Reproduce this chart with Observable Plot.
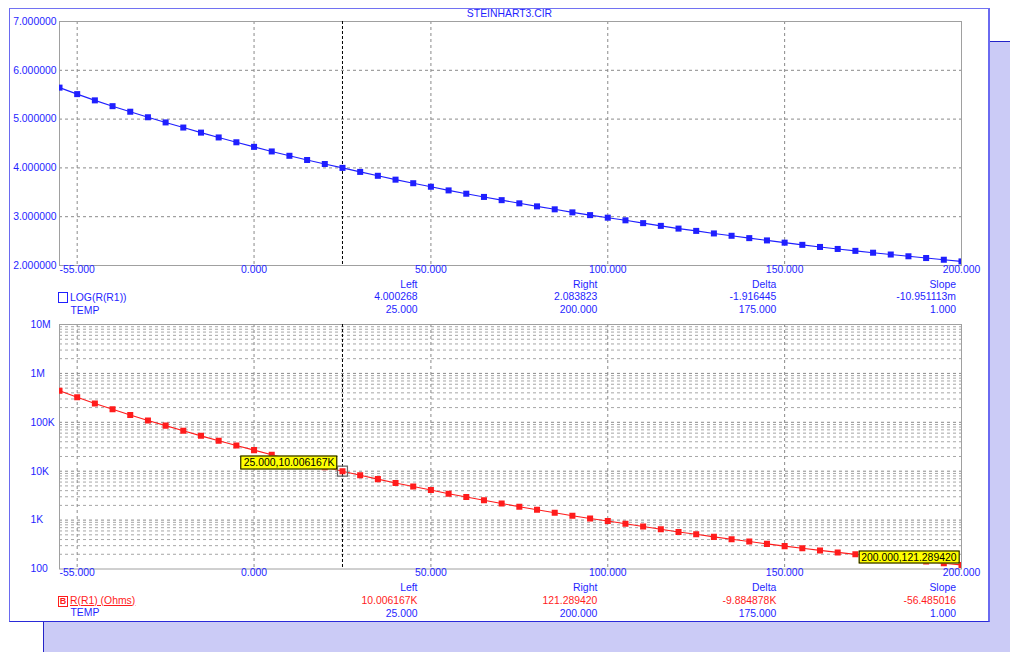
<!DOCTYPE html>
<html>
<head>
<meta charset="utf-8">
<title>STEINHART3.CIR</title>
<script src="https://cdn.jsdelivr.net/npm/d3@7"></script>
<script src="https://cdn.jsdelivr.net/npm/@observablehq/plot@0.6"></script>
<style>
  html, body { margin: 0; background: #fff; }
  #stage { position: relative; width: 1010px; height: 652px; overflow: hidden; background: #fff;
    font-family: "Liberation Sans", Arial, sans-serif; font-size: 10.4px; color: #1f1fff; }
  #backwin { position: absolute; left: 43px; top: 41px; width: 1000px; height: 700px;
    background: #cbcbf6; border-left: 1px solid #2424c8; border-top: 1px solid #2424c8; }
  #frontwin { position: absolute; left: 9px; top: 8px; width: 978px; height: 612px; background: #fff;
    border-left: 1px solid #6a6af0; border-top: 1px solid #7272f2; border-right: 2px solid #6a6af0;
    border-bottom: 1px solid #2a2ad8; }
  .t { position: absolute; white-space: nowrap; line-height: 12px; height: 12px; }
  .tag { position: absolute; white-space: nowrap; background: #ffff00; border: 1px solid #000; color: #000;
    line-height: 11.5px; padding: 0 2px; transform: translate(-100%, -100%); }
  .box { position: absolute; box-sizing: border-box; }
</style>
</head>
<body>
<div id="stage">
  <div id="backwin"></div>
  <div id="frontwin"></div>
</div>
<script>
// Thermistor sweep: R(R1) in ohms against TEMP in degrees C
const temperature = [-55, -50, -45, -40, -35, -30, -25, -20, -15, -10, -5, 0, 5, 10, 15, 20, 25,
  30, 35, 40, 45, 50, 55, 60, 65, 70, 75, 80, 85, 90, 95, 100, 105, 110, 115, 120, 125, 130,
  135, 140, 145, 150, 155, 160, 165, 170, 175, 180, 185, 190, 195, 200];
const resistance = [441600, 325100, 242100, 184100, 141600, 109100, 85510, 67140, 52840, 42070,
  33500, 26980, 21730, 17700, 14520, 12020, 10006.167, 8279, 6887, 5741, 4853, 4111, 3459, 2958,
  2541, 2183, 1879, 1629, 1416, 1227, 1077, 955.0, 843.3, 737.9, 648.6, 570.2, 511.7, 453.9,
  406.4, 363.9, 326.6, 293.8, 264.9, 239.9, 218.3, 199.5, 182.8, 167.9, 154.5, 142.2, 131.2,
  121.28942];

// Axis ticks and labels
const xTicks = [-55, 0, 50, 100, 150, 200];
const xTickLabels = ["-55.000", "0.000", "50.000", "100.000", "150.000", "200.000"];
const xGrid = [-50, 0, 50, 100, 150];
const logTicks = [2, 3, 4, 5, 6, 7];
const logTickLabels = ["2.000000", "3.000000", "4.000000", "5.000000", "6.000000", "7.000000"];
const ohmTicks = [100, 1e3, 1e4, 1e5, 1e6, 1e7];
const ohmTickLabels = ["100", "1K", "10K", "100K", "1M", "10M"];

// Cursor readouts
const title = "STEINHART3.CIR";
const cursorLeft = 25, cursorRight = 200;
const readHeaders = ["Left", "Right", "Delta", "Slope"];
const logReadout = ["4.000268", "2.083823", "-1.916445", "-10.951113m"];
const ohmReadout = ["10.006167K", "121.289420", "-9.884878K", "-56.485016"];
const tempReadout = ["25.000", "200.000", "175.000", "1.000"];
const logName = "LOG(R(R1))", ohmName = "R(R1) (Ohms)", xName = "TEMP";

const stage = document.getElementById("stage");
const rows = temperature.map((t, i) => ({t, ohms: resistance[i], logOhms: Math.log10(resistance[i])}));
const atCursor = rows.filter(d => d.t === cursorLeft);

const BLUE = "#1f1fff", RED = "#ff1c1c", GRID = "#8a8a8a", MINOR = "#a6a6a6", FRAME = "#a0a0a0";
const FONT = '"Liberation Sans", Arial, sans-serif';
const W = 1010;

function xTickText() {
  return [
    Plot.text(xTickLabels.slice(0, 1), {x: () => xTicks[0], text: d => d, frameAnchor: "bottom",
      dy: 7, textAnchor: "start", fill: BLUE}),
    Plot.text(xTickLabels.slice(1), {x: (d, i) => xTicks[i + 1], text: d => d, frameAnchor: "bottom",
      dy: 7, fill: BLUE})
  ];
}
const gridStyle = {stroke: GRID, strokeOpacity: 1, strokeDasharray: "3,3", strokeWidth: 1};

// Upper panel: LOG(R(R1))
const upper = Plot.plot({
  width: W, height: 282, marginTop: 21, marginBottom: 17, marginLeft: 59, marginRight: 49,
  style: {background: "transparent", fontFamily: FONT, fontSize: "10.4px", overflow: "visible"},
  x: {domain: [-55, 200], axis: null},
  y: {domain: [2, 7], axis: null},
  marks: [
    Plot.gridY(logTicks.slice(1, -1), gridStyle),
    Plot.gridX(xGrid, gridStyle),
    Plot.frame({stroke: FRAME}),
    Plot.ruleX([cursorLeft], {stroke: "#000", strokeDasharray: "3,2"}),
    Plot.line(rows, {x: "t", y: "logOhms", stroke: BLUE, strokeWidth: 1.1, clip: true}),
    Plot.dot(rows, {x: "t", y: "logOhms", symbol: "square", r: 3.4, fill: BLUE, clip: true}),
    Plot.text(logTickLabels, {y: (d, i) => logTicks[i], text: d => d, frameAnchor: "left", dx: -3,
      textAnchor: "end", fill: BLUE}),
    ...xTickText()
  ]
});
upper.style.position = "absolute";
upper.style.left = "0px";
upper.style.top = "0px";
stage.appendChild(upper);

// Lower panel: R(R1) on a log scale
const minorOhms = ohmTicks.slice(0, -1).flatMap(d => [2, 3, 4, 5, 6, 7, 8, 9].map(k => k * d));
const LOWER_TOP = 300;
const lower = Plot.plot({
  width: W, height: 290, marginTop: 24, marginBottom: 21.5, marginLeft: 59, marginRight: 49,
  style: {background: "transparent", fontFamily: FONT, fontSize: "10.4px", overflow: "visible"},
  x: {domain: [-55, 200], axis: null},
  y: {type: "log", domain: [100, 1e7], axis: null},
  marks: [
    Plot.gridY(minorOhms, {...gridStyle, stroke: MINOR}),
    Plot.gridY(ohmTicks.slice(1, -1), gridStyle),
    Plot.gridX(xGrid, gridStyle),
    Plot.frame({stroke: FRAME}),
    Plot.ruleX([cursorLeft], {stroke: "#000", strokeDasharray: "3,2"}),
    Plot.line(rows, {x: "t", y: "ohms", stroke: RED, strokeWidth: 1.1, clip: true}),
    Plot.dot(rows, {x: "t", y: "ohms", symbol: "square", r: 3.4, fill: RED, clip: true}),
    Plot.dot(atCursor, {x: "t", y: "ohms", symbol: "square", r: 5.6, fill: "none", stroke: "#666", strokeWidth: 1.2}),
    Plot.text(ohmTickLabels, {y: (d, i) => ohmTicks[i], text: d => d, frameAnchor: "left", dx: -29,
      textAnchor: "start", fill: BLUE}),
    ...xTickText()
  ]
});
lower.style.position = "absolute";
lower.style.left = "0px";
lower.style.top = LOWER_TOP + "px";
stage.appendChild(lower);

// Plain text helper (y is the text's vertical centre)
function put(text, x, y, anchor = "start", color = BLUE, extra = {}) {
  const d = document.createElement("div");
  d.className = "t";
  d.textContent = text;
  d.style.top = (y - 6) + "px";
  d.style.color = color;
  if (anchor === "end") d.style.right = (W - x) + "px";
  else if (anchor === "middle") { d.style.left = x + "px"; d.style.transform = "translateX(-50%)"; }
  else d.style.left = x + "px";
  Object.assign(d.style, extra);
  stage.appendChild(d);
  return d;
}
function box(x, y, w, h, color) {
  const b = document.createElement("div");
  b.className = "box";
  Object.assign(b.style, {left: x + "px", top: y + "px", width: w + "px", height: h + "px",
    border: "1px solid " + color});
  stage.appendChild(b);
  return b;
}

put(title, 509.5, 14, "middle");

// Cursor readout tables
const columnRight = [417.5, 597.3, 776.3, 956];
function readout(headerY, valueRow, valueColor) {
  readHeaders.forEach((h, i) => put(h, columnRight[i], headerY, "end"));
  valueRow.forEach((v, i) => put(v, columnRight[i], headerY + 12.7, "end", valueColor));
  tempReadout.forEach((v, i) => put(v, columnRight[i], headerY + 25.5, "end"));
}
readout(284.7, logReadout, BLUE);
readout(588.2, ohmReadout, RED);

// Trace names
box(58, 292, 10, 11, BLUE);
put(logName, 70, 298, "start", BLUE);
put(xName, 70.5, 310.5, "start", BLUE);

const bBox = box(58, 595.5, 10, 11, RED);
Object.assign(bBox.style, {color: RED, fontSize: "9px", lineHeight: "9px", textAlign: "center",
  fontWeight: "bold"});
bBox.textContent = "B";
put(ohmName, 70, 600.7, "start", RED, {textDecoration: "underline"});
put(xName, 70.5, 613.3, "start", BLUE);

// Yellow cursor value tags, placed through the lower panel's scales
function tag(t, ohms, text, gapX, gapY) {
  const px = lower.scale("x").apply(t);
  const py = lower.scale("y").apply(ohms) + LOWER_TOP;
  const d = document.createElement("div");
  d.className = "tag";
  d.textContent = text;
  d.style.left = (px - gapX) + "px";
  d.style.top = (py - gapY) + "px";
  stage.appendChild(d);
}
tag(cursorLeft, resistance[temperature.indexOf(cursorLeft)], `${tempReadout[0]},${ohmReadout[0]}`, 4.5, 1.5);
tag(cursorRight, resistance[temperature.indexOf(cursorRight)], `${tempReadout[1]},${ohmReadout[1]}`, 1.5, 0.5);
</script>
</body>
</html>
